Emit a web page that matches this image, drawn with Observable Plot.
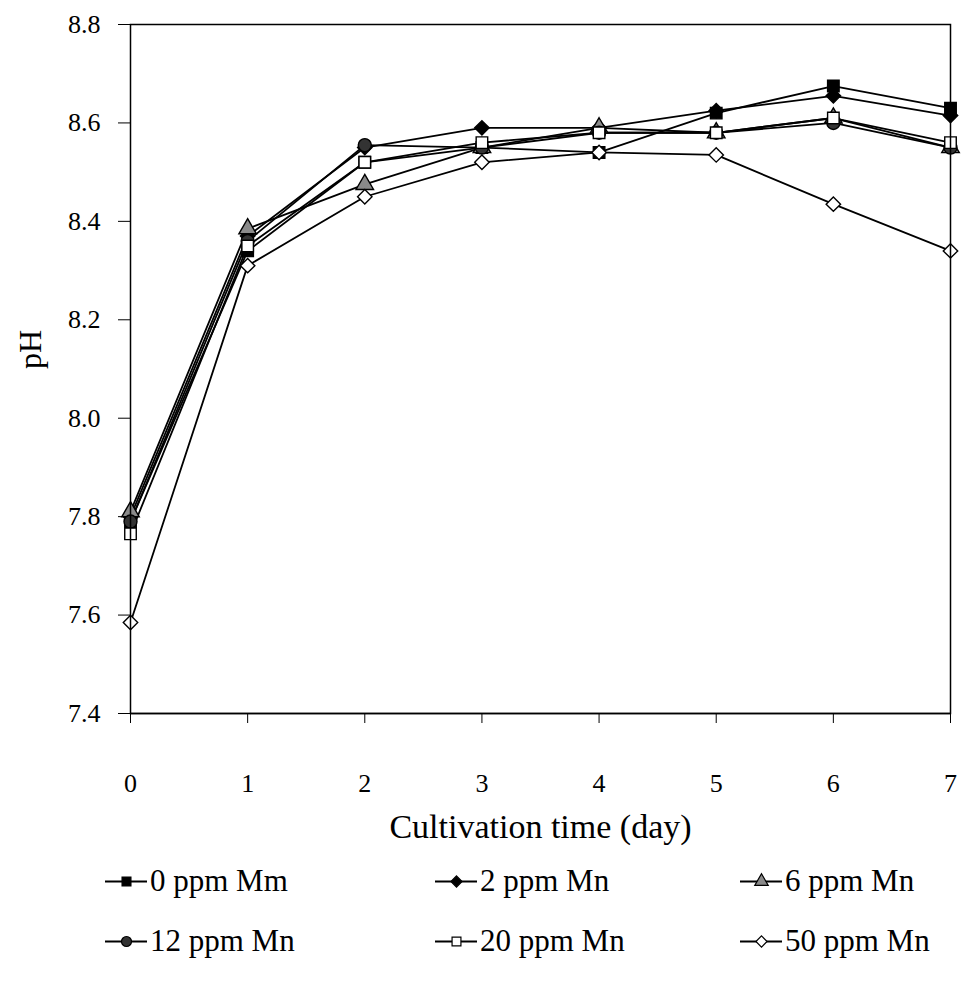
<!DOCTYPE html>
<html>
<head>
<meta charset="utf-8">
<script src="https://cdn.jsdelivr.net/npm/d3@7"></script>
<script src="https://cdn.jsdelivr.net/npm/@observablehq/plot@0.6"></script>
<style>
  body { margin: 0; background: #fff; font-family: "Liberation Serif", "Times New Roman", "DejaVu Serif", serif; }
  #legend { position: relative; width: 963px; height: 150px; }
  .item { position: absolute; display: flex; align-items: center; font-size: 31px; color: #000; white-space: nowrap; }
  .item svg { margin-right: 3px; }
</style>
</head>
<body>
<div id="chart"></div>
<div id="legend"></div>
<script>
const days = [0, 1, 2, 3, 4, 5, 6, 7];
const seriesNames = ["0 ppm Mm", "2 ppm Mn", "6 ppm Mn", "12 ppm Mn", "20 ppm Mn", "50 ppm Mn"];
const ph0  = [7.79, 8.34, 8.52, 8.55, 8.54, 8.62, 8.675, 8.63];
const ph2  = [7.80, 8.37, 8.55, 8.59, 8.59, 8.625, 8.655, 8.615];
const ph6  = [7.81, 8.385, 8.475, 8.55, 8.59, 8.58, 8.61, 8.55];
const ph12 = [7.79, 8.36, 8.555, 8.55, 8.58, 8.58, 8.60, 8.55];
const ph20 = [7.765, 8.35, 8.52, 8.56, 8.58, 8.58, 8.61, 8.56];
const ph50 = [7.585, 8.31, 8.45, 8.52, 8.54, 8.535, 8.435, 8.34];
const yTicks = [7.4, 7.6, 7.8, 8.0, 8.2, 8.4, 8.6, 8.8];
const xTicks = [0, 1, 2, 3, 4, 5, 6, 7];

const values = [ph0, ph2, ph6, ph12, ph20, ph50];
const symbols = ["square", "diamond2", "triangle", "circle", "square", "diamond2"];
const fills = ["#000", "#000", "#8a8a8a", "#333", "#fff", "#fff"];
const legendCols = [105, 435, 740];
const serif = "'Liberation Serif', 'Times New Roman', 'DejaVu Serif', serif";

const series = seriesNames.map((name, i) => ({
  name, symbol: symbols[i], fill: fills[i],
  data: days.map((d, j) => ({day: d, ph: values[i][j], name}))
}));

const marks = [];
for (const s of series) {
  marks.push(Plot.line(s.data, {x: "day", y: "ph", stroke: "#000", strokeWidth: 1.8}));
}
for (const s of series) {
  marks.push(Plot.dot(s.data, {x: "day", y: "ph", symbol: () => s.symbol, r: 6.5, fill: s.fill, stroke: "#000", strokeWidth: 1.4}));
}
marks.push(Plot.frame({stroke: "#000", strokeWidth: 1.5}));
marks.push(Plot.ruleY([7.4], {stroke: "#000", strokeWidth: 1.5}));
marks.push(Plot.text(["pH"], {frameAnchor: "left", dx: -100, rotate: -90, fontSize: 32, fill: "#000"}));
marks.push(Plot.text(["Cultivation time (day)"], {frameAnchor: "bottom", dy: 124, fontSize: 34, fill: "#000"}));

const chart = Plot.plot({
  width: 963,
  height: 852,
  marginTop: 24,
  marginBottom: 139,
  marginLeft: 130,
  marginRight: 13,
  style: {fontFamily: serif, fontSize: "26px", color: "#000", background: "#fff", overflow: "visible"},
  x: {domain: [0, 7], ticks: xTicks, tickFormat: d3.format("d"), tickSize: 10, tickPadding: 50, label: null},
  y: {domain: [7.4, 8.8], ticks: yTicks, tickFormat: d3.format(".1f"), tickSize: 12, tickPadding: 18, label: null},
  symbol: {type: "identity"},
  marks
});
document.getElementById("chart").appendChild(chart);

// Legend
const legend = document.getElementById("legend");
series.forEach((s, i) => {
  const row = Math.floor(i / 3), col = i % 3;
  const item = document.createElement("div");
  item.className = "item";
  item.style.left = legendCols[col] + "px";
  item.style.top = (row * 60 + 9) + "px";
  const sw = Plot.plot({
    width: 42, height: 40, margin: 0,
    x: {domain: [0, 1], axis: null}, y: {domain: [0, 1], axis: null},
    symbol: {type: "identity"},
    marks: [
      Plot.ruleY([0.5], {stroke: "#000", strokeWidth: 1.8}),
      Plot.dot([0.5], {x: d => d, y: 0.5, symbol: () => s.symbol, r: 5, fill: s.fill, stroke: "#000", strokeWidth: 1.2})
    ]
  });
  item.appendChild(sw);
  const t = document.createElement("span");
  t.textContent = s.name;
  item.appendChild(t);
  legend.appendChild(item);
});
</script>
</body>
</html>
